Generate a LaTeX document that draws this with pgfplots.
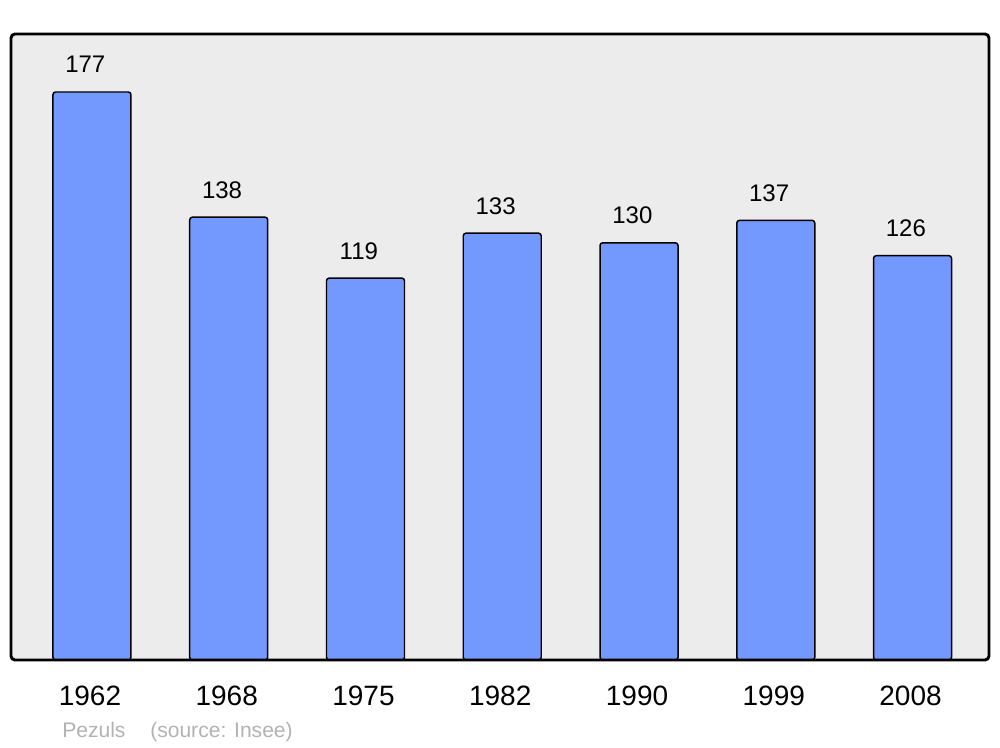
\documentclass[border=0pt]{standalone}
\usepackage{fontspec}
\setmainfont{Liberation Sans}
\usepackage{pgfplots}
\pgfplotsset{compat=1.18}
\definecolor{barblue}{RGB}{115,153,255}
\definecolor{bg}{RGB}{236,236,236}
\definecolor{srcgray}{RGB}{178,178,178}
\begin{document}
\begin{tikzpicture}
\useasboundingbox (-8.25pt,-65.25pt) rectangle (741.75pt,495pt);
\begin{axis}[
  at={(0,0)}, anchor=south west,
  scale only axis,
  width=733.5pt, height=469.5pt,
  xmin=-0.592, xmax=6.559,
  ymin=0, ymax=195.07,
  axis lines=none,
  axis background/.style={fill=bg},
  clip=false,
  ybar, bar width=58.5pt,
  xtick=data,
  xticklabels={1962,1968,1975,1982,1990,1999,2008},
  ytick=\empty,
  /pgf/number format/assume math mode=true,
  nodes near coords,
  every node near coord/.append style={font=\fontsize{18}{18}\selectfont, anchor=base, inner sep=0pt, yshift=14.25pt, xshift=-5pt, text=black},
]
\addplot[draw=black, line width=1.1pt, fill=barblue, rounded corners=2pt] coordinates {
(0,177) (1,138) (2,119) (3,133) (4,130) (5,137) (6,126)};
\foreach \i/\y in {0/1962,1/1968,2/1975,3/1982,4/1990,5/1999,6/2008} {
  \edef\temp{\noexpand\node[font=\noexpand\fontsize{21}{21}\noexpand\selectfont, anchor=base, inner sep=0pt] at (axis cs:\i,0) [yshift=-33.75pt, xshift=-1.5pt] {\y};}
  \temp
}
\draw[line width=2.2pt, rounded corners=3pt] (rel axis cs:0,0) rectangle (rel axis cs:1,1);
\end{axis}
\node[anchor=base west, inner sep=0pt, text=srcgray, font=\fontsize{15.8}{15.8}\selectfont] at (38.25pt,-57.75pt) {Pezuls};
\node[anchor=base west, inner sep=0pt, text=srcgray, font=\fontsize{15.8}{15.8}\selectfont] at (104.25pt,-57.75pt) {(source: Insee)};
\end{tikzpicture}
\end{document}
